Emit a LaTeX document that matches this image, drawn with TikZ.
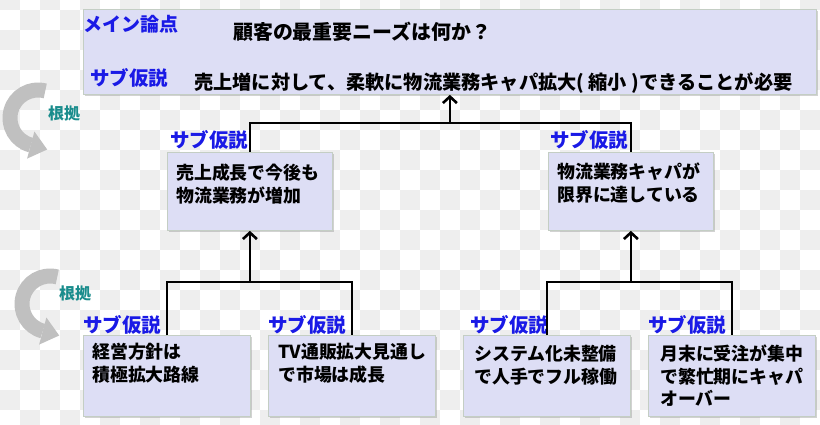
\documentclass[tikz,border=0pt]{standalone}
\usepackage{fontspec}
\setmainfont{Noto Sans CJK JP}
\usetikzlibrary{arrows.meta,shadows}
\definecolor{boxfill}{RGB}{221,222,245}
\definecolor{boxline}{RGB}{196,206,196}
\definecolor{lblue}{RGB}{26,26,230}
\definecolor{tealc}{RGB}{25,140,140}
\definecolor{arcgray}{RGB}{192,192,192}
\definecolor{checker}{RGB}{238,238,238}
\tikzset{
  hbox/.style={draw=boxline, line width=0.8pt, fill=boxfill, inner sep=0pt, anchor=north west,
    drop shadow={shadow xshift=1.5pt, shadow yshift=-1.5pt, opacity=0.35}},
  lbl/.style={anchor=north west, inner sep=0pt, text=lblue, font=\fontsize{19.5}{22}\selectfont\bfseries},
  ttl/.style={anchor=north west, inner sep=0pt, font=\fontsize{19.2}{22}\selectfont\bfseries},
  body/.style={anchor=north west, inner sep=0pt, align=left, font=\fontsize{17.9}{22.5}\selectfont\bfseries},
  basis/.style={inner sep=0pt, text=tealc, font=\fontsize{16}{18}\selectfont\bfseries},
  conn/.style={line width=2.6pt, draw=black},
  upar/.style={conn, -{Straight Barb[length=6.5pt,width=14pt]}},
  bigarc/.style={draw=arcgray, line width=15pt}
}
\begin{document}
\begin{tikzpicture}[x=1pt,y=-1pt]
\useasboundingbox (0,0) rectangle (820,424);
\begin{scope}
\clip (0,0) rectangle (820,424);
\fill[white] (0,0) rectangle (820,424);
\foreach \i in {0,...,40}{\foreach \j in {0,...,21}{\pgfmathtruncatemacro{\k}{mod(\i+\j,2)}\ifnum\k=0 \fill[checker] (20*\i,20*\j-10) rectangle ++(20,20);\fi}}
\end{scope}

% boxes
\node[hbox, minimum width=733pt, minimum height=85pt] (main) at (83,9) {};
\node[hbox, minimum width=165pt, minimum height=78pt] (ml) at (167,152) {};
\node[hbox, minimum width=165pt, minimum height=78pt] (mr) at (548,152) {};
\node[hbox, minimum width=167pt, minimum height=81pt] (b1) at (83,335) {};
\node[hbox, minimum width=167pt, minimum height=81pt] (b2) at (268,335) {};
\node[hbox, minimum width=167pt, minimum height=81pt] (b3) at (463,335) {};
\node[hbox, minimum width=167pt, minimum height=81pt] (b4) at (648,335) {};

% main box texts
\node[lbl, font=\fontsize{19}{22}\selectfont\bfseries] (t0) at (83,15) {メイン論点};
\node[ttl, font=\fontsize{19.9}{22}\selectfont\bfseries] (t1) at (233,22) {顧客の最重要ニーズは何か？};
\node[lbl] (l0) at (90,68) {サブ仮説};
\node[ttl] (t2) at (194,72) {売上増に対して、柔軟に物流業務キャパ拡大( 縮小 )できることが必要};

% mid level
\node[lbl] (l1) at (170,130) {サブ仮説};
\node[body] (tl) at (176,164) {売上成長で今後も\\物流業務が増加};
\node[lbl] (l2) at (550,130) {サブ仮説};
\node[body] (tr) at (557,163) {物流業務キャパが\\限界に達している};

% bottom level
\node[lbl] (l3) at (83,315) {サブ仮説};
\node[body] (tb1) at (92,343) {経営方針は\\積極拡大路線};
\node[lbl] (l4) at (268,315) {サブ仮説};
\node[body] (tb2) at (278,343) {TV通販拡大見通し\\で市場は成長};
\node[lbl] (l5) at (470,315) {サブ仮説};
\node[body] (tb3) at (474,345) {システム化未整備\\で人手でフル稼働};
\node[lbl] (l6) at (648,315) {サブ仮説};
\node[body] (tb4) at (660,345) {月末に受注が集中\\で繁忙期にキャパ\\オーバー};

% connectors
\coordinate (j0) at (main.south |- 0,123);
\coordinate (j1) at (ml.south |- 0,282);
\coordinate (j2) at (mr.south |- 0,282);
\draw[conn] (ml.north) |- (j0) -| (mr.north);
\draw[upar] (j0) -- (main.south);
\draw[conn] (b1.north) |- (j1) -| (b2.north);
\draw[upar] (j1) -- (ml.south);
\draw[conn] (b3.north) |- (j2) -| (b4.north);
\draw[upar] (j2) -- (mr.south);

% grey curved arrows and labels
\draw[bigarc] (38,118) ++(285:28) arc[start angle=285, end angle=105, radius=28];
\fill[arcgray] (27.1,158.6) -- (34.4,131.5) -- (47.2,149.5) -- cycle;
\node[basis] (k1) at (64,113.5) {根拠};
\begin{scope}[shift={(12,186)}]
\draw[bigarc] (38,118) ++(285:28) arc[start angle=285, end angle=105, radius=28];
\fill[arcgray] (27.1,158.6) -- (34.4,131.5) -- (47.2,149.5) -- cycle;
\end{scope}
\node[basis] (k2) at (75,293.5) {根拠};
\end{tikzpicture}
\end{document}
